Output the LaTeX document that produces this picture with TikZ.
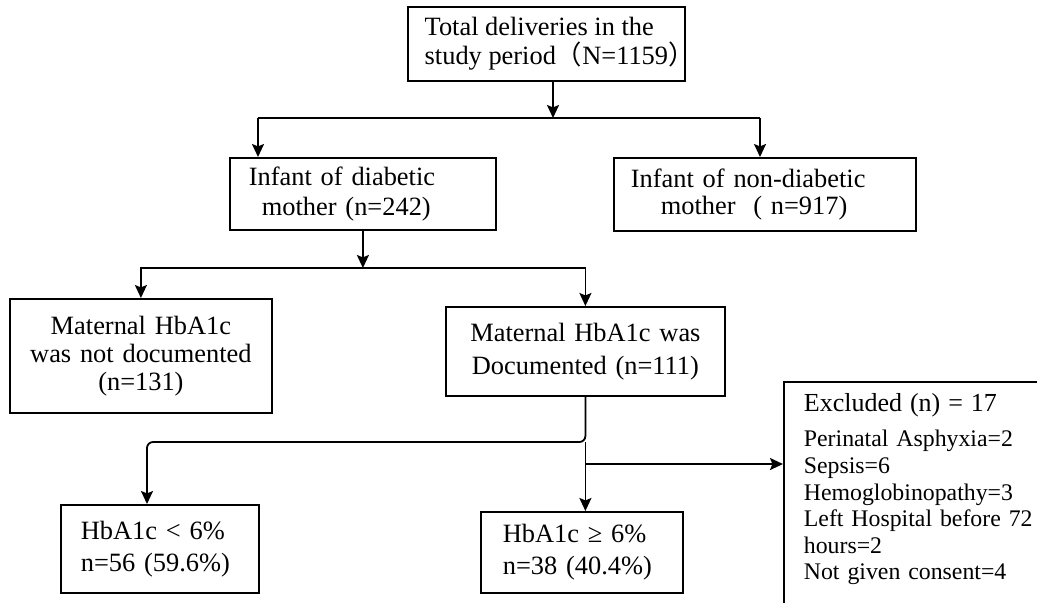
\documentclass[tikz,border=0pt]{standalone}
\usepackage{fontspec}
\setmainfont{Liberation Serif}
\newfontfamily\cjkfont{Noto Sans CJK SC}
\usetikzlibrary{%
  arrows.meta,%
  calc%
}
\tikzset{>={Stealth[length=6.5pt,width=6pt,inset=1.2pt]}}
\tikzset{box/.style = {draw, line width=0.9pt, anchor=north west, inner ysep=0pt},
  link/.style = {line width=0.9pt}}

\begin{document}
\begin{tikzpicture}[x=0.5pt,y=-0.5pt]
  \useasboundingbox (0,0) rectangle (1037,602);
  \clip (0,0) rectangle (1037,602);
  % boxes
  \node[box, minimum width=138.5pt, minimum height=37pt, inner xsep=0pt, align=left,
    font=\fontsize{13.2}{14.5}\selectfont] (total) at (407,6)
    {Total deliveries in the\\study period{\cjkfont（}N=1159\rlap{\cjkfont）}};
  \node[box, minimum height=36pt, text width=114pt, inner xsep=9.5pt, align=left,
    font=\fontsize{13.2}{15}\selectfont] (diab) at (229,157)
    {Infant of diabetic\\\hspace*{6.5pt}mother (n=242)};
  \node[box, minimum height=36.5pt, text width=134pt, inner xsep=8.5pt, align=left,
    font=\fontsize{13.2}{13.5}\selectfont] (nondiab) at (613,157)
    {Infant of non-diabetic\\\hspace*{15pt}mother\ \ ( n=917)};
  \node[box, minimum height=57pt, text width=121pt, inner xsep=5pt, align=center,
    font=\fontsize{13.2}{14}\selectfont] (notdoc) at (9,298)
    {Maternal HbA1c\\was not documented\\(n=131)};
  \node[box, minimum height=44.5pt, text width=129.5pt, inner xsep=5pt, align=center,
    font=\fontsize{13.2}{16.5}\selectfont] (doc) at (445,306)
    {Maternal HbA1c was\\Documented (n=111)};
  \node[box, minimum height=44pt, text width=79pt, inner xsep=10pt, align=left,
    font=\fontsize{13.2}{16}\selectfont] (low) at (60,504)
    {HbA1c < 6\%\\n=56 (59.6\%)};
  \node[box, minimum height=40.5pt, text width=79pt, inner xsep=11pt, align=left,
    font=\fontsize{13.2}{16}\selectfont] (high) at (480,511)
    {HbA1c ≥ 6\%\\n=38 (40.4\%)};
  \node[box, text width=130pt, inner xsep=10pt, inner ysep=6pt, align=left,
    font=\fontsize{11.9}{13.3}\selectfont] (excl) at (783,381)
    {{\fontsize{13}{13.3}\selectfont Excluded (n) = 17}\\[4.2pt]
     Perinatal Asphyxia=2\\Sepsis=6\\Hemoglobinopathy=3\\
     Left Hospital before 72\\hours=2\\Not given consent=4\rule[-25pt]{0pt}{0pt}};
  % split points
  \coordinate (s1) at (553,118);
  \coordinate (s1l) at (258,118);
  \coordinate (s1r) at (760,118);
  \coordinate (s2) at (363,268);
  \coordinate (s3) at (147,442);
  \coordinate (s4) at (0,464);
  % connectors
  \draw[link,->] (total.south -| s1) -- (s1);
  \draw[link] (s1l) -- (s1r);
  \draw[link,->] (s1l) -- (s1l |- diab.north);
  \draw[link,->] (s1r) -- (s1r |- nondiab.north);
  \draw[link,->] (diab.south) -- (diab.south |- s2);
  \draw[link,->] (diab.south |- s2) -| (notdoc.north);
  \draw[link,->] (diab.south |- s2) -| (doc.north);
  \draw[link,->,rounded corners=3pt] (doc.south) |- (s3) -- (s3 |- low.north);
  \draw[link,->] (doc.south |- s3) -- (doc.south |- high.north);
  \draw[link,->] (doc.south |- s4) -- (excl.west |- s4);
\end{tikzpicture}
\end{document}
